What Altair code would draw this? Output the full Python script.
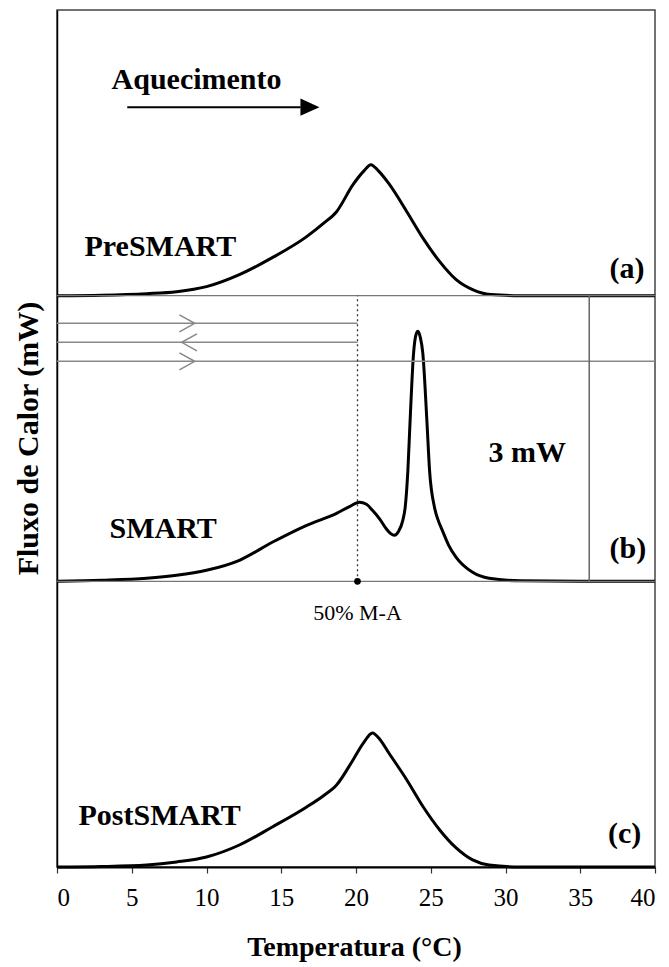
import altair as alt
import pandas as pd

# ---------------- data ----------------
# heat flow above each curve's own baseline (mW) vs temperature (°C)
temp_a = [0, 3, 6, 8, 10, 12.2, 14.4, 16.7, 17.8, 18.7, 19.8, 20.5, 21.0, 21.5, 22.2, 23.4, 24.5, 25.6, 26.7, 27.8, 29.0, 31, 35, 40]
flow_a = [0, 0.005, 0.021, 0.042, 0.095, 0.221, 0.399, 0.62, 0.756, 0.882, 1.166, 1.305, 1.376, 1.31, 1.176, 0.882, 0.599, 0.357, 0.168, 0.063, 0.011, 0, 0, 0]

temp_b = [0, 3, 6, 8, 10, 12.2, 14.4, 16.7, 18.7, 19.6, 20.23, 20.7, 21.1, 21.6, 22.0, 22.3, 22.58, 22.85, 23.13, 23.29,
          23.47, 23.62, 23.85, 24.0, 24.14, 24.3, 24.47, 24.74, 24.92, 25.25, 25.5, 25.8, 26.2, 26.7, 27.8, 28.9, 31, 35, 40]
flow_b = [0, 0.011, 0.032, 0.063, 0.116, 0.221, 0.41, 0.588, 0.714, 0.788, 0.83, 0.809, 0.746, 0.651, 0.557, 0.504, 0.483, 0.525, 0.641, 0.777,
          1.166, 1.691, 2.395, 2.584, 2.626, 2.563, 2.395, 1.691, 1.166, 0.777, 0.64, 0.525, 0.378, 0.252, 0.095, 0.032, 0.005, 0, 0]

temp_c = [0, 3, 6, 8, 10, 12.2, 14.4, 16.7, 17.8, 18.7, 19.8, 20.5, 21.1, 21.6, 22.2, 23.4, 24.5, 25.6, 26.7, 27.8, 28.9, 31, 35, 40]
flow_c = [0, 0.005, 0.021, 0.053, 0.105, 0.231, 0.42, 0.63, 0.746, 0.861, 1.124, 1.303, 1.408, 1.34, 1.197, 0.914, 0.63, 0.389, 0.2, 0.074, 0.021, 0, 0, 0]

curve_names = ["a", "b", "c"]
curve_offsets = [6.0, 3.0, 0.0]   # vertical shift of each trace (mW)

# panel labels
label_text = ["Aquecimento", "PreSMART", "(a)", "SMART", "(b)", "3 mW", "PostSMART", "(c)"]
label_T = [3.65, 1.84, 36.96, 3.51, 36.96, 28.86, 1.44, 36.85]
label_Q = [8.17, 6.417, 6.19, 3.455, 3.245, 4.253, 0.441, 0.252]

# reference lines in panel (b)
hline_Q = [5.71, 5.51, 5.31]
hline_T_end = [20.1, 20.1, 40]
chevron_T = [8.7, 8.85, 8.7]
chevron_dir = ["right", "left", "right"]

mark_T = 20.1          # 50% M-A transformation temperature
scale_bar_T = 35.6     # 3 mW scale bar position
arrow_T = [4.7, 16.3]  # heating arrow
arrow_head_T = 16.92
arrow_Q = 7.98

# ---------------- tables ----------------
rows = []
for name, off, ts, fs in zip(curve_names, curve_offsets, [temp_a, temp_b, temp_c], [flow_a, flow_b, flow_c]):
    for t, f in zip(ts, fs):
        rows.append({"curve": name, "T": t, "Q": f + off})
curves_df = pd.DataFrame(rows)

labels_df = pd.DataFrame({"text": label_text, "T": label_T, "Q": label_Q})
hl_df = pd.DataFrame({"T": [0] * 3, "T2": hline_T_end, "Q": hline_Q})
chev_r = pd.DataFrame({"T": [c for c, d in zip(chevron_T, chevron_dir) if d == "right"],
                       "Q": [q for q, d in zip(hline_Q, chevron_dir) if d == "right"]})
chev_l = pd.DataFrame({"T": [c for c, d in zip(chevron_T, chevron_dir) if d == "left"],
                       "Q": [q for q, d in zip(hline_Q, chevron_dir) if d == "left"]})
base_df = pd.DataFrame({"T": [0, 0], "T2": [40, 40], "Q": [3.0, 6.0]})
dotted_df = pd.DataFrame({"T": [mark_T], "Q": [3.0], "Q2": [6.0]})
dot_df = pd.DataFrame({"T": [mark_T], "Q": [3.0]})
mlabel_df = pd.DataFrame({"T": [mark_T], "Q": [2.594], "text": ["50% M-A"]})
bar_df = pd.DataFrame({"T": [scale_bar_T], "Q": [3.0], "Q2": [6.0]})
arrow_df = pd.DataFrame({"T": [arrow_T[0]], "T2": [arrow_T[1]], "Q": [arrow_Q]})
head_df = pd.DataFrame({"T": [arrow_head_T], "Q": [arrow_Q]})

FONT = "Liberation Serif"

xs = alt.Scale(domain=[0, 40], nice=False, zero=False)
ys = alt.Scale(domain=[0, 9], nice=False, zero=False)

x_axis = alt.Axis(values=list(range(0, 41, 5)), grid=False, domainColor="black", domainWidth=2,
                  tickColor="#333", tickSize=6, tickWidth=1.2, labelFont=FONT, labelFontSize=25,
                  labelColor="black", labelPadding=12, titleFont=FONT, titleFontSize=28,
                  titleFontWeight="bold", titleColor="black", titleBaseline="alphabetic",
                  titleY=88, titleX=297, titleAlign="center")
y_axis = alt.Axis(labels=False, ticks=False, grid=False, domainColor="black", domainWidth=1.5,
                  titleFont=FONT, titleFontSize=30, titleFontWeight="bold", titleColor="black",
                  titleAngle=270, titleBaseline="alphabetic", titleX=-20, titleY=428,
                  titleAlign="center")

X = alt.X("T:Q", scale=xs, title="Temperatura (°C)", axis=x_axis)
Y = alt.Y("Q:Q", scale=ys, title="Fluxo de Calor (mW)", axis=y_axis)

baselines = alt.Chart(base_df).mark_rule(color="#777", strokeWidth=1.2).encode(x=X, x2="T2:Q", y=Y)
hlines = alt.Chart(hl_df).mark_rule(color="#888", strokeWidth=1.5).encode(x=X, x2="T2:Q", y=Y)
chev_right = alt.Chart(chev_r).mark_point(shape="M-0.9,-1L0.9,0L-0.9,1", filled=False, size=289,
                                          stroke="#888", strokeWidth=1.5, opacity=1).encode(x=X, y=Y)
chev_left = alt.Chart(chev_l).mark_point(shape="M0.9,-1L-0.9,0L0.9,1", filled=False, size=289,
                                         stroke="#888", strokeWidth=1.5, opacity=1).encode(x=X, y=Y)
dotted = alt.Chart(dotted_df).mark_rule(color="#333", strokeWidth=1.3, strokeDash=[2, 3]).encode(
    x=X, y=Y, y2="Q2:Q")
scale_bar = alt.Chart(bar_df).mark_rule(color="#666", strokeWidth=1.5).encode(x=X, y=Y, y2="Q2:Q")
arrow_line = alt.Chart(arrow_df).mark_rule(color="black", strokeWidth=2).encode(x=X, x2="T2:Q", y=Y)
arrow_head = alt.Chart(head_df).mark_point(shape="M-1,-0.9L1,0L-1,0.9Z", filled=True, size=361,
                                           color="black", opacity=1).encode(x=X, y=Y)

curves = alt.Chart(curves_df).mark_line(color="black", strokeWidth=3, interpolate="monotone").encode(
    x=X, y=Y, detail="curve:N")

dot = alt.Chart(dot_df).mark_circle(color="black", size=45, opacity=1).encode(x=X, y=Y)
mlabel = alt.Chart(mlabel_df).mark_text(font=FONT, fontSize=22, color="black", align="center",
                                        baseline="alphabetic").encode(x=X, y=Y, text="text:N")
labels = alt.Chart(labels_df).mark_text(font=FONT, fontSize=30, fontWeight="bold", color="black",
                                        align="left", baseline="alphabetic").encode(x=X, y=Y, text="text:N")

chart = alt.layer(
    curves, baselines, hlines, chev_right, chev_left, dotted, scale_bar, arrow_line, arrow_head,
    dot, mlabel, labels
).properties(
    width=598, height=857,
    background="white",
    autosize=alt.AutoSizeParams(type="none"),
    padding={"left": 57, "top": 10, "right": 14, "bottom": 100},
).configure_view(stroke="#444", strokeWidth=1.5)

chart.save("out.html", embed_options={"renderer": "svg", "actions": False})
